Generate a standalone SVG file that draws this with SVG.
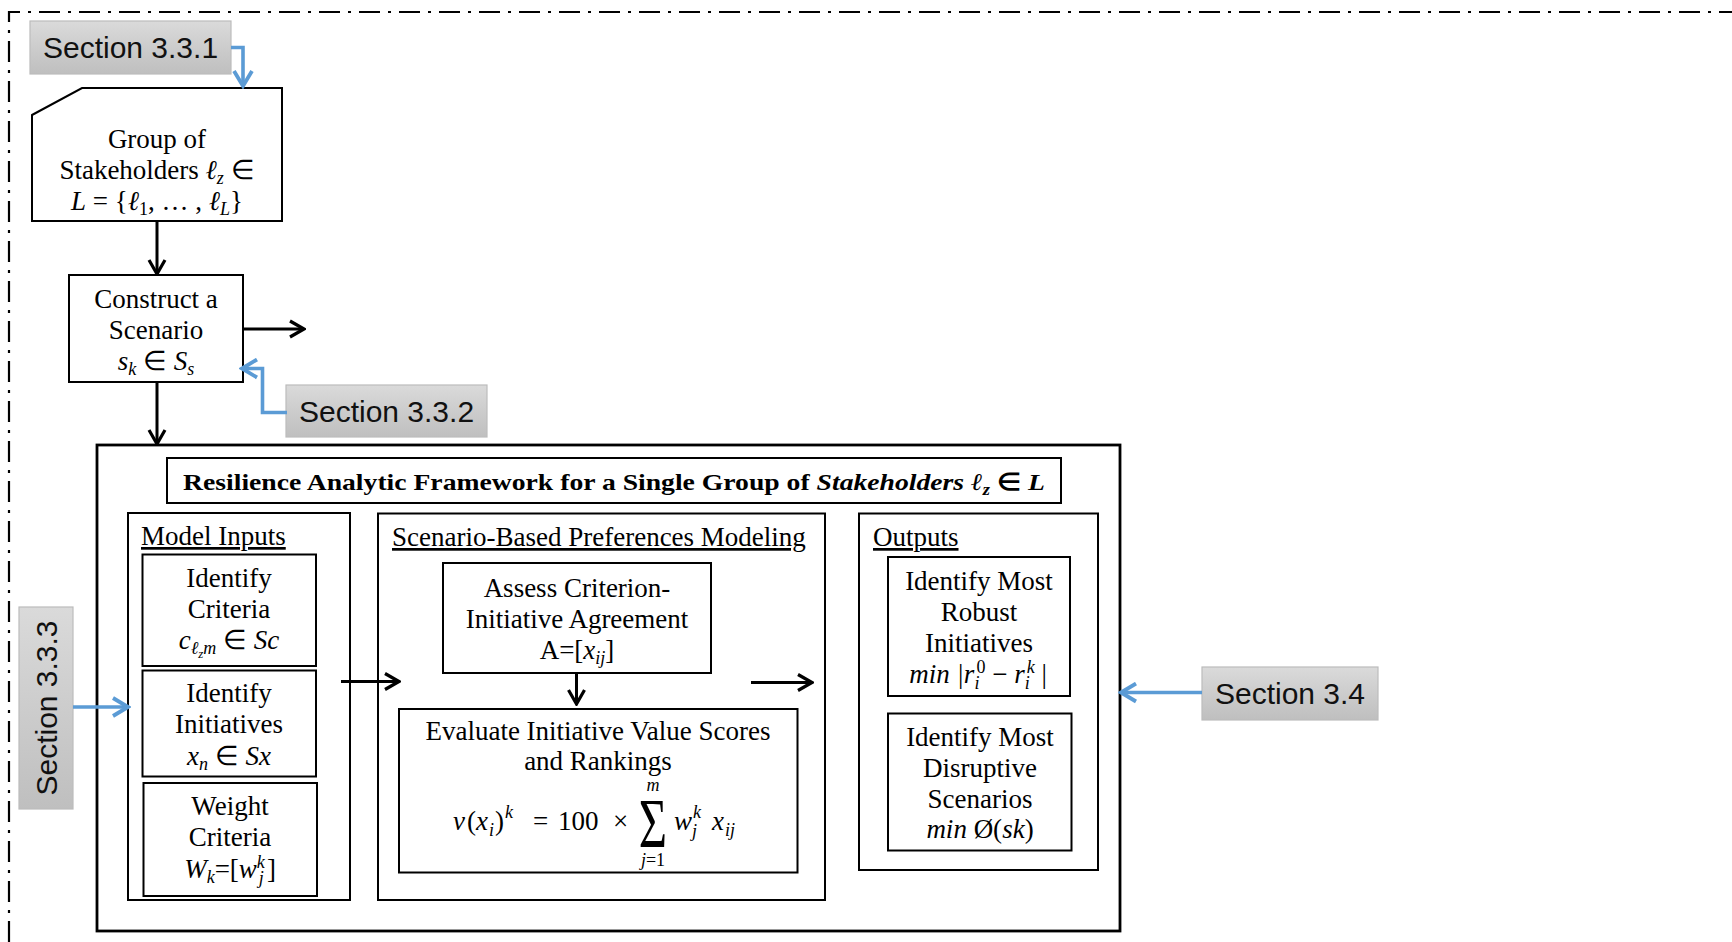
<svg xmlns="http://www.w3.org/2000/svg" width="1732" height="942" viewBox="0 0 1732 942">
  <defs>
    <style>
      .t { font-family: "Liberation Serif", serif; font-size: 27px; fill: #000; text-anchor: middle; }
      .l { font-family: "Liberation Serif", serif; font-size: 27px; fill: #000; }
      .u { text-decoration: underline; }
      .mi { font-style: italic; }
      .sm { font-size: 18px; }
      .sec { font-family: "Liberation Sans", sans-serif; font-size: 30px; fill: #111; text-anchor: middle; }
      .box { fill: #fff; stroke: #000; stroke-width: 2; }
      .frame { fill: #fff; stroke: #000; stroke-width: 2.8; }
      .gray { fill: url(#grayFill); stroke: #bcbcbc; stroke-width: 1.2; }
      .arr { fill: none; stroke: #000; stroke-width: 3; marker-end: url(#headBlack); }
      .barr { fill: none; stroke: #5b9bd5; stroke-width: 3.6; marker-end: url(#headBlue); }
      .border { fill: none; stroke: #000; stroke-width: 2.2; stroke-dasharray: 21 8 3 8; }
    </style>
    <linearGradient id="grayFill" x1="0" y1="0" x2="0" y2="1">
      <stop offset="0" stop-color="#dadada"/>
      <stop offset="1" stop-color="#bfbfbf"/>
    </linearGradient>
    <marker id="headBlack" markerUnits="userSpaceOnUse" viewBox="0 0 18 20" markerWidth="18" markerHeight="20" refX="16" refY="10" orient="auto">
      <path d="M2,2 L16,10 L2,18" fill="none" stroke="#000" stroke-width="3.2"/>
    </marker>
    <marker id="headBlue" markerUnits="userSpaceOnUse" viewBox="0 0 20 22" markerWidth="20" markerHeight="22" refX="17" refY="11" orient="auto">
      <path d="M2,2 L17,11 L2,20" fill="none" stroke="#5b9bd5" stroke-width="3.8"/>
    </marker>
  </defs>

  <rect width="1732" height="942" fill="#fff"/>

  <!-- dash-dot boundary -->
  <path class="border" d="M9,942 L9,12 L1732,12"/>

  <!-- section tags -->
  <g id="sec331">
    <rect class="gray" x="30" y="21" width="201" height="53"/>
    <text class="sec" x="130.5" y="58">Section 3.3.1</text>
  </g>
  <g id="sec332">
    <rect class="gray" x="286" y="385" width="201" height="52"/>
    <text class="sec" x="386.5" y="422">Section 3.3.2</text>
  </g>
  <g id="sec333">
    <rect class="gray" x="19" y="607" width="54" height="202"/>
    <text class="sec" transform="translate(46,708) rotate(-90)" x="0" y="11">Section 3.3.3</text>
  </g>
  <g id="sec34">
    <rect class="gray" x="1202" y="667" width="176" height="53"/>
    <text class="sec" x="1290" y="704">Section 3.4</text>
  </g>

  <!-- stakeholder group (card shape) -->
  <g id="stakeholders">
    <polygon class="box" points="32,115 82,88 282,88 282,221 32,221"/>
    <text class="t" x="157" y="148">Group of</text>
    <text class="t" x="157" y="179">Stakeholders <tspan class="mi">ℓ</tspan><tspan class="mi sm" dy="5">z</tspan><tspan dy="-5"> ∈</tspan></text>
    <text class="t" x="157" y="210"><tspan class="mi">L</tspan> = {<tspan class="mi">ℓ</tspan><tspan class="sm" dy="5">1</tspan><tspan dy="-5">, … , </tspan><tspan class="mi">ℓ</tspan><tspan class="mi sm" dy="5">L</tspan><tspan dy="-5">}</tspan></text>
  </g>

  <g id="scenario">
    <rect class="box" x="69" y="275" width="174" height="107"/>
    <text class="t" x="156" y="308">Construct a</text>
    <text class="t" x="156" y="339">Scenario</text>
    <text class="t" x="156" y="370"><tspan class="mi">s</tspan><tspan class="mi sm" dy="5">k</tspan><tspan dy="-5"> ∈ </tspan><tspan class="mi">S</tspan><tspan class="mi sm" dy="5">s</tspan></text>
  </g>

  <!-- framework container -->
  <g id="framework">
    <rect class="frame" x="97" y="445" width="1023" height="486"/>
  </g>
  <g id="title">
    <rect class="box" x="167" y="458" width="894" height="45"/>
    <text x="614" y="490" font-family="Liberation Serif, serif" font-size="24" font-weight="bold" text-anchor="middle" textLength="862" lengthAdjust="spacingAndGlyphs">Resilience Analytic Framework for a Single Group of <tspan font-style="italic">Stakeholders ℓ</tspan><tspan font-style="italic" font-size="16" dy="5">z</tspan><tspan dy="-5"> ∈ </tspan><tspan font-style="italic">L</tspan></text>
  </g>

  <!-- model inputs -->
  <g id="model-inputs">
    <rect class="box" x="128" y="513" width="222" height="387"/>
    <text class="l u" x="141" y="545">Model Inputs</text>
  </g>
  <g id="identify-criteria">
    <rect class="box" x="142.5" y="554.5" width="173.5" height="111.5"/>
    <text class="t" x="229" y="587">Identify</text>
    <text class="t" x="229" y="618">Criteria</text>
    <text class="t" x="229" y="649"><tspan class="mi">c</tspan><tspan class="mi sm" dy="5">ℓ</tspan><tspan class="mi" style="font-size:13px" dy="4">z</tspan><tspan class="mi sm" dy="-4">m</tspan><tspan dy="-5">  ∈ </tspan><tspan class="mi">Sc</tspan></text>
  </g>
  <g id="identify-initiatives">
    <rect class="box" x="142.5" y="670.5" width="173.5" height="106"/>
    <text class="t" x="229" y="702">Identify</text>
    <text class="t" x="229" y="733">Initiatives</text>
    <text class="t" x="229" y="765"><tspan class="mi">x</tspan><tspan class="mi sm" dy="5">n</tspan><tspan dy="-5"> ∈ </tspan><tspan class="mi">Sx</tspan></text>
  </g>
  <g id="weight-criteria">
    <rect class="box" x="143.5" y="783" width="173.5" height="113"/>
    <text class="t" x="230" y="815">Weight</text>
    <text class="t" x="230" y="846">Criteria</text>
    <text class="t" x="230" y="878"><tspan class="mi">W</tspan><tspan class="mi sm" dy="5">k</tspan><tspan dy="-5">=[</tspan><tspan class="mi">w</tspan><tspan class="mi sm" dy="-10">k</tspan><tspan class="mi sm" dx="-6" dy="16">j</tspan><tspan dx="3" dy="-6">]</tspan></text>
  </g>

  <!-- scenario-based preferences modeling -->
  <g id="preferences">
    <rect class="box" x="378" y="513.5" width="447" height="386.5"/>
    <text class="l u" x="392" y="546">Scenario-Based Preferences Modeling</text>
  </g>
  <g id="assess">
    <rect class="box" x="443" y="563" width="268" height="110"/>
    <text class="t" x="577" y="597">Assess Criterion-</text>
    <text class="t" x="577" y="628">Initiative Agreement</text>
    <text class="t" x="577" y="659">A=[<tspan class="mi">x</tspan><tspan class="mi sm" dy="5">ij</tspan><tspan dy="-5">]</tspan></text>
  </g>
  <g id="evaluate">
    <rect class="box" x="399" y="709" width="398.5" height="163.5"/>
    <text class="t" x="598" y="740">Evaluate Initiative Value Scores</text>
    <text class="t" x="598" y="770">and Rankings</text>
    <text class="l" x="453" y="830"><tspan class="mi">v</tspan><tspan dx="2">(</tspan><tspan class="mi">x</tspan><tspan class="mi sm" dx="1" dy="6">i</tspan><tspan dx="1" dy="-6">)</tspan><tspan class="mi sm" dx="1" dy="-12">k</tspan></text>
    <text class="l" x="533" y="830">=</text>
    <text class="l" x="558" y="830">100</text>
    <text class="l" x="613" y="830">×</text>
    <text class="l" transform="translate(653,847) scale(0.9,1.3)" x="0" y="0" style="font-size:54px" text-anchor="middle">Σ</text>
    <text class="t mi sm" x="653" y="791">m</text>
    <text class="t sm" x="653" y="866"><tspan class="mi">j</tspan>=1</text>
    <text class="l mi" x="674" y="830">w</text>
    <text class="l mi sm" x="693" y="818">k</text>
    <text class="l mi sm" x="692" y="837">j</text>
    <text class="l mi" x="712" y="830">x</text>
    <text class="l mi sm" x="725" y="836">ij</text>
  </g>

  <!-- outputs -->
  <g id="outputs">
    <rect class="box" x="859" y="513.5" width="239" height="356.5"/>
    <text class="l u" x="873" y="546">Outputs</text>
  </g>
  <g id="robust">
    <rect class="box" x="888" y="557" width="182" height="139"/>
    <text class="t" x="979" y="590">Identify Most</text>
    <text class="t" x="979" y="621">Robust</text>
    <text class="t" x="979" y="652">Initiatives</text>
    <text class="t mi" x="978" y="683">min |r<tspan class="sm" dy="6">i</tspan><tspan class="sm" font-style="normal" dx="-3" dy="-16">0</tspan><tspan font-style="normal" dy="10"> − </tspan>r<tspan class="sm" dy="6">i</tspan><tspan class="sm" dx="-3" dy="-16">k</tspan><tspan font-style="normal" dy="10">  |</tspan></text>
  </g>
  <g id="disruptive">
    <rect class="box" x="888" y="713.5" width="183.5" height="137"/>
    <text class="t" x="980" y="746">Identify Most</text>
    <text class="t" x="980" y="777">Disruptive</text>
    <text class="t" x="980" y="808">Scenarios</text>
    <text class="t" x="980" y="838"><tspan class="mi">min</tspan> Ø(<tspan class="mi">sk</tspan>)</text>
  </g>

  <!-- connectors -->
  <g id="connectors">
    <path class="arr" d="M157,221 L157,274"/>
    <path class="arr" d="M243,329 L304,329"/>
    <path class="arr" d="M157,382 L157,444"/>
    <path class="arr" d="M341,681.5 L399,681.5"/>
    <path class="arr" d="M576.5,673 L576.5,704"/>
    <path class="arr" d="M751,682.5 L812,682.5"/>
    <path class="barr" d="M231,47.5 L243,47.5 L243,86"/>
    <path class="barr" d="M287,412.5 L262.5,412.5 L262.5,368.5 L242,368.5"/>
    <path class="barr" d="M73,707 L128,707"/>
    <path class="barr" d="M1202,692.5 L1121,692.5"/>
  </g>
</svg>
